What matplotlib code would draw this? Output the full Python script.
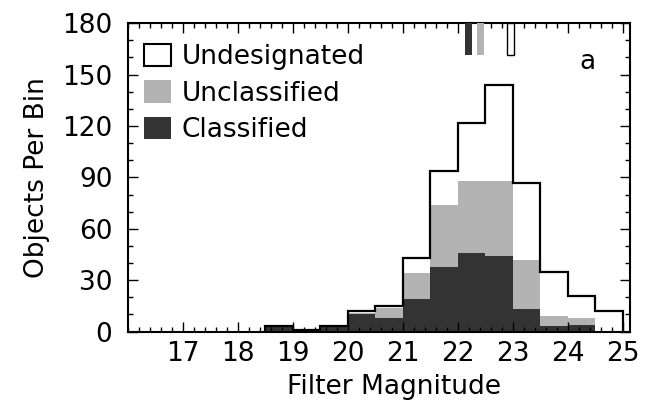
import matplotlib
matplotlib.use("Agg")
import matplotlib.pyplot as plt
import numpy as np
from matplotlib.patches import Patch
from matplotlib.ticker import MultipleLocator

plt.rcParams['font.family'] = ['DejaVu Sans']

# Histogram bins (edges, width 0.5 mag)
bin_edges = [18.5, 19.0, 19.5, 20.0, 20.5, 21.0, 21.5, 22.0, 22.5, 23.0, 23.5, 24.0, 24.5, 25.0]
classified = [3, 1, 3, 10, 8, 19, 38, 46, 44, 13, 3, 4, 0]
unclassified = [0, 0, 0, 1, 6, 15, 36, 42, 44, 29, 6, 4, 0]
undesignated = [0, 0, 0, 1, 1, 9, 20, 34, 56, 45, 26, 13, 12]

# Median markers hanging from the top axis
median_mags = [22.20, 22.41, 22.96]
median_labels = ['Classified', 'Unclassified', 'Undesignated']

legend_labels = ['Undesignated', 'Unclassified', 'Classified']
x_ticks = [17, 18, 19, 20, 21, 22, 23, 24, 25]
y_ticks = [0, 30, 60, 90, 120, 150, 180]

dark = '#333333'
gray = '#b3b3b3'
FS = 19

edges = np.array(bin_edges)
c = np.array(classified, float)
u = np.array(unclassified, float)
d = np.array(undesignated, float)
gray_top = c + u
total = c + u + d

fig = plt.figure(figsize=(6.45, 4.13), dpi=100)
ax = fig.add_axes([0.198, 0.197, 0.779, 0.747])

ax.stairs(gray_top, edges, fill=True, color=gray, linewidth=0)
ax.stairs(c, edges, fill=True, color=dark, linewidth=0)
ax.stairs(total, edges, fill=False, color='black', linewidth=1.6, baseline=0)

# median markers
mcolors = [dark, gray, 'white']
medges = ['none', 'none', 'black']
for m, fc, ec in zip(median_mags, mcolors, medges):
    ax.bar(m, 18.5, bottom=180 - 18.5, width=0.13, color=fc, edgecolor=ec,
           linewidth=1.0 if ec != 'none' else 0, zorder=3)

ax.set_xlim(16, 25.13)
ax.set_ylim(0, 180)
ax.set_xticks(x_ticks)
ax.set_yticks(y_ticks)
ax.xaxis.set_minor_locator(MultipleLocator(0.2))
ax.yaxis.set_minor_locator(MultipleLocator(10))
ax.tick_params(which='both', direction='in', top=True, right=True, labelsize=FS,
               width=1.0, color='black')
ax.tick_params(which='major', length=7)
ax.tick_params(which='minor', length=3.5)
ax.tick_params(axis='x', pad=7)
ax.tick_params(axis='y', pad=11)
for s in ax.spines.values():
    s.set_linewidth(1.5)

ax.set_xlabel('Filter Magnitude', fontsize=FS, labelpad=5, x=0.53)
ax.set_ylabel('Objects Per Bin', fontsize=FS, labelpad=9)

handles = [Patch(facecolor='white', edgecolor='black', linewidth=1.5),
           Patch(facecolor=gray, edgecolor='none'),
           Patch(facecolor=dark, edgecolor='none')]
ax.legend(handles, legend_labels, loc='upper left', frameon=False, fontsize=FS,
          handlelength=1.05, handleheight=0.95, handletextpad=0.4,
          labelspacing=0.38, borderaxespad=0.2, bbox_to_anchor=(0.0, 0.985))

ax.text(0.915, 0.875, 'a', transform=ax.transAxes, fontsize=FS, ha='center', va='center')

fig.savefig('out.png', dpi=100)
